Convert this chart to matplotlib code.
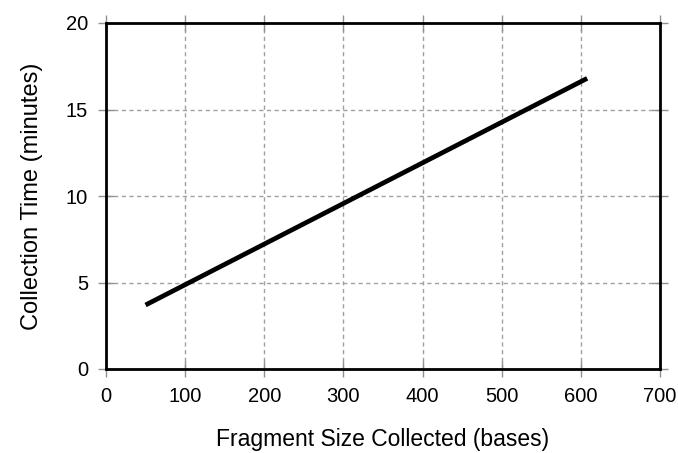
import matplotlib
matplotlib.use("Agg")
import matplotlib.pyplot as plt

# data
fragment_size = [50, 608]
collection_time = [3.7, 16.8]

x_ticks = [0, 100, 200, 300, 400, 500, 600, 700]
y_ticks = [0, 5, 10, 15, 20]

plt.rcParams["font.family"] = ["Liberation Sans", "DejaVu Sans"]

fig = plt.figure(figsize=(6.78, 4.53), dpi=100)
ax = fig.add_axes([106 / 678, 1 - 369 / 453, (660 - 106) / 678, (369 - 23) / 453])

ax.plot(fragment_size, collection_time, color="black", linewidth=3.4,
        solid_capstyle="butt")

ax.set_xlim(0, 700)
ax.set_ylim(0, 20)
ax.set_xticks(x_ticks)
ax.set_yticks(y_ticks)
ax.grid(True, color="#a0a0a0", linestyle=(0, (3, 2.5)), linewidth=1.0)
ax.set_axisbelow(True)

for s in ax.spines.values():
    s.set_linewidth(2.0)
    s.set_color("black")

ax.tick_params(direction="inout", length=12, width=1, color="#909090",
               labelsize=14.5, pad=7, top=True, right=True)

ax.set_xlabel("Fragment Size Collected (bases)", fontsize=16.5, labelpad=16)
ax.set_ylabel("Collection Time (minutes)", fontsize=17, labelpad=16)

fig.savefig("out.png", dpi=100)
